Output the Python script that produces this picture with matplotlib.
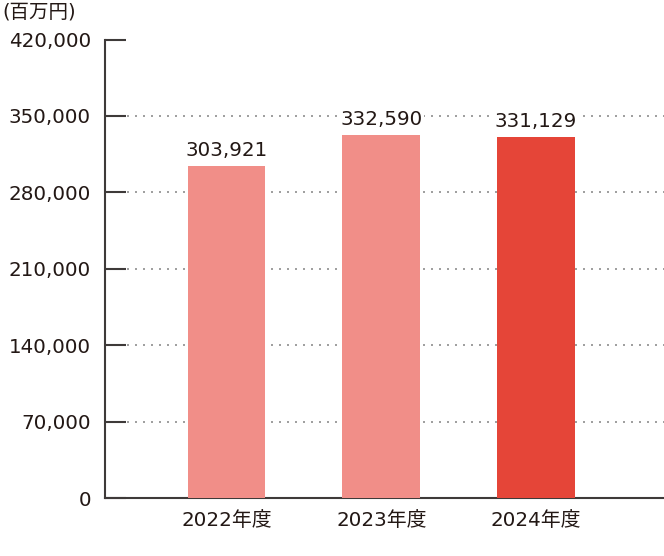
import matplotlib.pyplot as plt
from matplotlib.ticker import FuncFormatter

plt.rcParams['font.family'] = ['DejaVu Sans', 'Noto Sans CJK JP']

# data
years = ["2022年度", "2023年度", "2024年度"]
sales = [303921, 332590, 331129]
colors = ["#F18E88", "#F18E88", "#E54538"]
y_ticks = [0, 70000, 140000, 210000, 280000, 350000, 420000]

text_color = "#231815"
axis_color = "#3E3A39"
fs = 14.3

fig = plt.figure(figsize=(6.64, 5.56), dpi=100)
ax = fig.add_axes([0.158, 0.1043, 0.842, 0.8245])

x = range(len(years))
ax.bar(x, sales, width=0.503, color=colors, zorder=3)

# value labels, white box hides the dotted line behind them
for xi, v in zip(x, sales):
    ax.text(xi, v + 5500, f"{v:,}", ha="center", va="bottom",
            fontsize=fs, color=text_color, zorder=4,
            bbox=dict(facecolor="white", edgecolor="none", pad=1.5))

ax.set_xlim(-0.785, 2.826)
ax.set_ylim(0, 420000)
ax.set_yticks(y_ticks)
ax.yaxis.set_major_formatter(FuncFormatter(lambda v, p: f"{int(v):,}"))
ax.set_xticks(list(x))
ax.set_xticklabels(years)

# dotted grid lines
for t in y_ticks[1:-1]:
    ax.plot([-0.645, 2.826], [t, t], linestyle=(0, (1, 3)), color="#a0a0a0",
            linewidth=1.44, zorder=1)

for s in ["top", "right"]:
    ax.spines[s].set_visible(False)
for s in ["left", "bottom"]:
    ax.spines[s].set_color(axis_color)
    ax.spines[s].set_linewidth(1.5)

ax.tick_params(axis="y", direction="in", length=15, width=1.5,
               color=axis_color, labelsize=fs, labelcolor=text_color, pad=10)
ax.tick_params(axis="x", length=0, labelsize=fs, labelcolor=text_color, pad=9)

fig.text(0.004, 0.978, "(百万円)", ha="left", va="center", fontsize=14,
         color=text_color)

fig.savefig("out.png", dpi=100)
